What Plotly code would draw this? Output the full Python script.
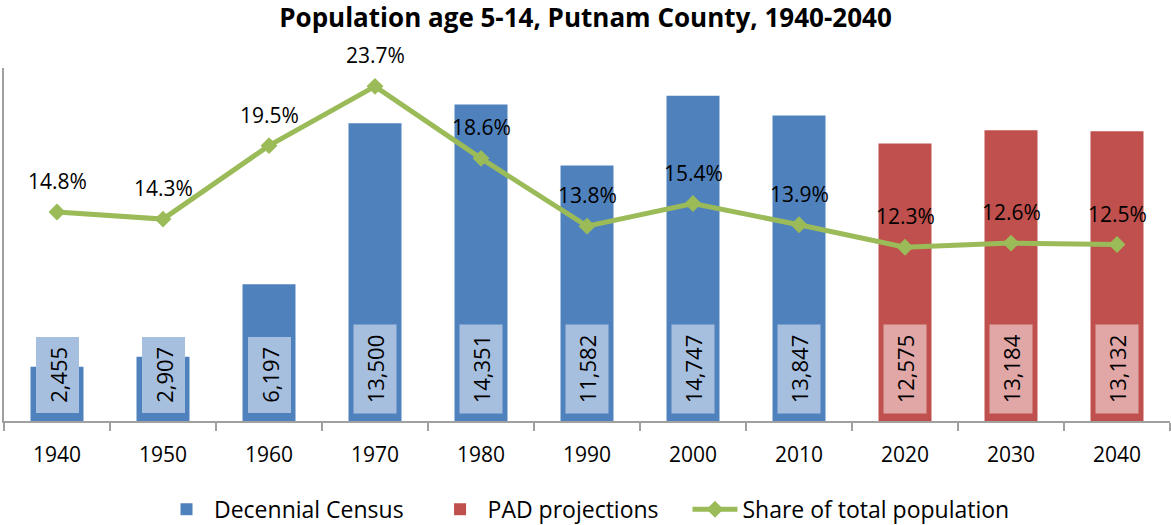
import plotly.graph_objects as go

FONT = "Open Sans"
BLUE = "#4F81BD"
RED = "#C0504D"
GREEN = "#9BBB59"
LIGHT_BLUE = "#A7BFDE"
LIGHT_RED = "#E0A7A6"
AXIS_COLOR = "#A0A0A0"
PAD = "\u00a0" * 4  # widens the gap between legend entries
THIN = "\u2009"  # lengthens the label boxes a bit

years = ["1940", "1950", "1960", "1970", "1980", "1990", "2000", "2010", "2020", "2030", "2040"]
census_years = years[:8]
census_values = [2455, 2907, 6197, 13500, 14351, 11582, 14747, 13847]
projection_years = years[8:]
projection_values = [12575, 13184, 13132]
share_values = [0.148, 0.143, 0.195, 0.237, 0.186, 0.138, 0.154, 0.139, 0.123, 0.126, 0.125]

fig = go.Figure()

fig.add_trace(
    go.Bar(
        x=census_years,
        y=census_values,
        name="Decennial Census" + PAD,
        marker=dict(color=BLUE, line=dict(width=0)),
        width=0.5,
    )
)
fig.add_trace(
    go.Bar(
        x=projection_years,
        y=projection_values,
        name="PAD projections" + PAD,
        marker=dict(color=RED, line=dict(width=0)),
        width=0.5,
    )
)
fig.add_trace(
    go.Scatter(
        x=years,
        y=share_values,
        name="Share of total population",
        mode="lines+markers",
        line=dict(color=GREEN, width=5),
        marker=dict(symbol="diamond", size=13, color=GREEN),
        yaxis="y2",
    )
)

# annotations on a category axis take the category index
annotations = []
bar_values = census_values + projection_values
for i, v in enumerate(bar_values):
    fill = LIGHT_BLUE if i < len(census_values) else LIGHT_RED
    annotations.append(dict(
        x=i, y=0, xref="x", yref="y", text=f"{THIN}{v:,}{THIN}", textangle=-90,
        showarrow=False, yanchor="bottom", yshift=7,
        bgcolor=fill, borderpad=6,
        font=dict(family=FONT, size=22, color="black"),
    ))
for i, s in enumerate(share_values):
    annotations.append(dict(
        x=i, y=s, xref="x", yref="y2", text=f"{s * 100:.1f}%",
        showarrow=False, yanchor="middle", yshift=31,
        font=dict(family=FONT, size=21, color="black"),
    ))

fig.update_layout(
    width=1171,
    height=525,
    margin=dict(l=4, r=1, t=68, b=104),
    plot_bgcolor="white",
    paper_bgcolor="white",
    font=dict(family=FONT, size=21, color="black"),
    title=dict(
        text="<b>Population age 5-14, Putnam County, 1940-2040</b>",
        x=0.5, xanchor="center", y=0.965, yanchor="middle",
        font=dict(family=FONT, size=26, color="black"),
    ),
    barmode="overlay",
    showlegend=True,
    legend=dict(
        orientation="h", x=0.5, xanchor="center",
        yref="container", y=0.03, yanchor="middle",
        font=dict(family=FONT, size=23), itemwidth=45, traceorder="normal",
    ),
    annotations=annotations,
    xaxis=dict(
        type="category",
        categoryorder="array",
        categoryarray=years,
        range=[-0.5, len(years) - 0.5],
        showline=True,
        linecolor=AXIS_COLOR,
        linewidth=2,
        ticks="outside",
        tickson="boundaries",
        ticklen=8,
        tickcolor=AXIS_COLOR,
        tickwidth=2,
        tickangle=0,
        ticklabelstandoff=14,
        showgrid=False,
        tickfont=dict(family=FONT, size=21),
    ),
    yaxis=dict(
        range=[0, 16000],
        showline=True,
        linecolor=AXIS_COLOR,
        linewidth=2,
        showgrid=False,
        showticklabels=False,
        ticks="",
        zeroline=False,
    ),
    yaxis2=dict(
        range=[0, 0.25],
        overlaying="y",
        side="right",
        visible=False,
    ),
)

# drop the page's default body margin so the figure sits at the window corner
fig.write_html(
    "out.html",
    config={"displayModeBar": False},
    post_script="document.body.style.margin='0';",
)
